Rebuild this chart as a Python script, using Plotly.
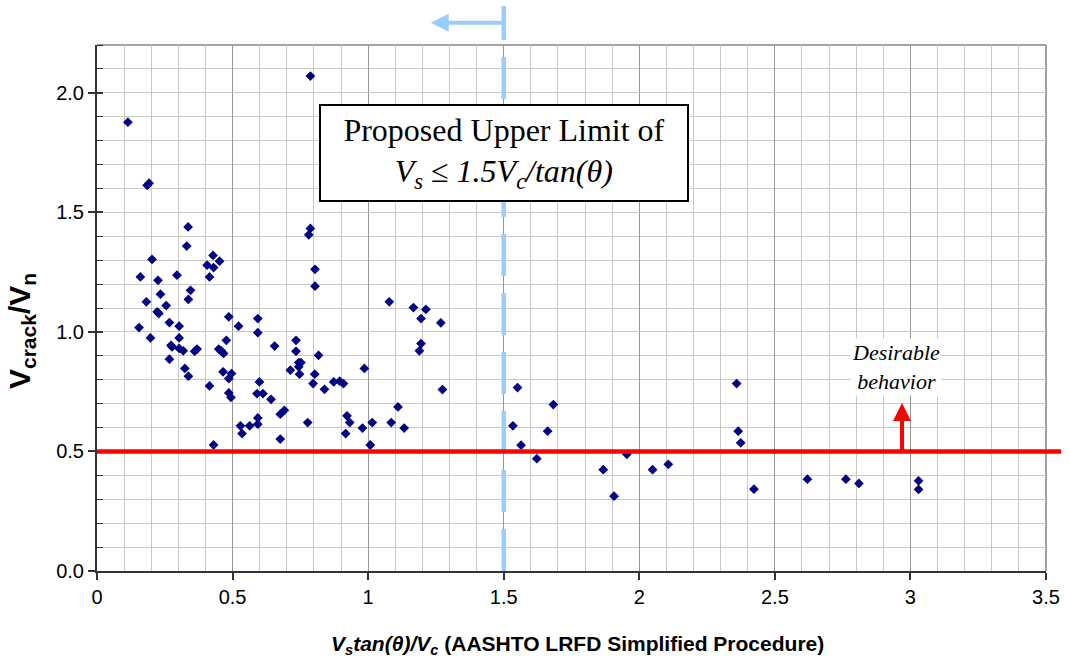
import plotly.graph_objects as go

# ---------------- data ----------------
vs_tan_over_vc = [
    0.787, 0.114, 0.185, 0.192, 0.336, 0.331, 0.787, 0.781, 0.203, 0.160,
    0.225, 0.295, 0.234, 0.182, 0.222, 0.228, 0.255, 0.267, 0.155, 0.303,
    0.428, 0.406, 0.430, 0.452, 0.415, 0.345, 0.337, 0.804, 0.804, 1.078,
    1.167, 0.486, 0.522, 0.593,
    0.197, 0.303, 0.273, 0.277, 0.303, 0.318, 0.267, 0.360, 0.369, 0.324,
    0.337, 0.593, 0.477, 0.449, 0.458, 0.467, 0.655, 0.734, 0.734, 0.744,
    0.752, 0.744, 0.747, 0.817, 0.713, 0.803, 0.797, 0.839, 0.873, 0.895,
    0.909, 0.986, 0.465, 0.496, 0.486, 0.415, 0.486, 0.494, 0.599, 0.590,
    0.612, 0.642, 0.676, 0.691, 0.777, 0.922, 0.932, 0.917, 0.979, 1.015,
    1.008, 1.110, 1.085, 1.133, 1.195, 1.195, 1.189, 0.529, 0.535, 0.563,
    0.593, 0.593, 0.676, 0.430,
    1.213, 1.268, 1.274,
    1.551, 1.683, 1.534, 1.662, 1.564, 1.622, 1.867, 1.907, 1.954, 2.049,
    2.107, 2.359, 2.365, 2.374, 2.423,
    2.620, 2.762, 2.810, 3.030, 3.030,
]
vcrack_over_vn = [
    2.070, 1.877, 1.613, 1.622, 1.439, 1.359, 1.433, 1.406, 1.303, 1.230,
    1.216, 1.237, 1.158, 1.126, 1.084, 1.077, 1.110, 1.039, 1.018, 1.024,
    1.320, 1.279, 1.269, 1.296, 1.230, 1.174, 1.136, 1.262, 1.191, 1.126,
    1.102, 1.063, 1.024, 1.056,
    0.975, 0.975, 0.944, 0.937, 0.931, 0.921, 0.886, 0.919, 0.928, 0.847,
    0.815, 0.997, 0.965, 0.928, 0.921, 0.910, 0.941, 0.965, 0.919, 0.872,
    0.872, 0.854, 0.823, 0.902, 0.840, 0.823, 0.784, 0.760, 0.791, 0.794,
    0.784, 0.847, 0.833, 0.826, 0.805, 0.774, 0.745, 0.726, 0.791, 0.742,
    0.742, 0.718, 0.656, 0.672, 0.621, 0.649, 0.621, 0.575, 0.598, 0.621,
    0.527, 0.686, 0.621, 0.598, 1.056, 0.951, 0.921, 0.607, 0.575, 0.607,
    0.640, 0.614, 0.552, 0.527,
    1.094, 1.038, 0.759,
    0.767, 0.696, 0.607, 0.585, 0.526, 0.470, 0.424, 0.313, 0.488, 0.424,
    0.446, 0.784, 0.585, 0.536, 0.342,
    0.384, 0.384, 0.366, 0.377, 0.341,
]

x_tick_vals = [0, 0.5, 1, 1.5, 2, 2.5, 3, 3.5]
x_tick_text = ["0", "0.5", "1", "1.5", "2", "2.5", "3", "3.5"]
y_tick_vals = [0.0, 0.5, 1.0, 1.5, 2.0]
y_tick_text = ["0.0", "0.5", "1.0", "1.5", "2.0"]

X_RANGE = [0, 3.5]
Y_RANGE = [0, 2.2]
PROPOSED_LIMIT = 1.5      # Vs tan(theta)/Vc upper limit
DESIRED_RATIO = 0.5       # Vcrack/Vn threshold
DESIRABLE_ARROW_X = 2.969
DESIRABLE_ARROW_TOP = 0.703
DESIRABLE_TEXT_X = 2.946
DESIRABLE_TEXT_Y = 0.853

# ---------------- layout geometry ----------------
W, H = 1070, 663
ML, MR, MT, MB = 97, 24, 45, 92
PW = W - ML - MR
PH = H - MT - MB
PX_PER_X = PW / (X_RANGE[1] - X_RANGE[0])


def paper_x(px):
    return (px - ML) / PW


def paper_y(py):
    return (H - MB - py) / PH


FONT_SANS = "Liberation Sans, Arial, sans-serif"
FONT_SERIF = "Liberation Serif, Times New Roman, serif"
NAVY = "#000080"
LIGHT_BLUE = "#99CCFF"
AXIS_DARK = "#333333"
MINOR_GRID = "#C8C8C8"

fig = go.Figure()
fig.add_trace(go.Scatter(
    x=vs_tan_over_vc, y=vcrack_over_vn, mode="markers",
    marker=dict(symbol="diamond", size=7.5, color=NAVY, line=dict(width=0)),
    showlegend=False, hoverinfo="x+y",
))
# empty trace so the overlay axis (inner half of the major y ticks) is drawn
fig.add_trace(go.Scatter(x=[], y=[], yaxis="y2", showlegend=False, hoverinfo="skip"))

shapes = [
    # top and right frame (grey)
    dict(type="line", xref="paper", yref="paper", x0=0, x1=1, y0=1, y1=1,
         line=dict(color="#858585", width=1.5), layer="below"),
    dict(type="line", xref="paper", yref="paper", x0=1, x1=1, y0=0, y1=1,
         line=dict(color="#858585", width=1.5), layer="below"),
    # proposed limit: short top segment + dashed line
    dict(type="line", xref="x", yref="paper", x0=PROPOSED_LIMIT, x1=PROPOSED_LIMIT,
         y0=paper_y(6), y1=paper_y(40), line=dict(color=LIGHT_BLUE, width=4.5),
         layer="above"),
    dict(type="line", xref="x", yref="paper", x0=PROPOSED_LIMIT, x1=PROPOSED_LIMIT,
         y0=paper_y(57), y1=0, line=dict(color=LIGHT_BLUE, width=4.5, dash="42px,17px"),
         layer="above"),
    # desired ratio line
    dict(type="line", xref="paper", yref="y", x0=0, x1=paper_x(1061),
         y0=DESIRED_RATIO, y1=DESIRED_RATIO, line=dict(color="#FF0000", width=4.5),
         layer="above"),
]

annotations = [
    # left arrow at top of limit line
    dict(xref="x", yref="paper", x=PROPOSED_LIMIT - 73 / PX_PER_X, y=paper_y(22.7),
         ax=73, ay=0, axref="pixel", ayref="pixel", text="", showarrow=True,
         arrowhead=2, arrowsize=0.9, arrowwidth=4, arrowcolor=LIGHT_BLUE),
    # boxed proposal text
    dict(xref="x", yref="paper", x=PROPOSED_LIMIT, y=paper_y(153),
         xanchor="center", yanchor="middle", showarrow=False,
         text="Proposed Upper Limit of<br><i>V<sub>s</sub> ≤ 1.5V<sub>c</sub>/tan(θ)</i>",
         font=dict(family=FONT_SERIF, size=32, color="black"),
         bgcolor="white", bordercolor="black", borderwidth=2, borderpad=5,
         width=356, height=84, align="center"),
    # desirable behavior arrow
    dict(xref="x", yref="y", x=DESIRABLE_ARROW_X, y=DESIRABLE_ARROW_TOP,
         ax=DESIRABLE_ARROW_X, ay=DESIRED_RATIO, axref="x", ayref="y",
         text="", showarrow=True, arrowhead=2, arrowsize=0.9, arrowwidth=4,
         arrowcolor="#FF0000"),
    dict(xref="x", yref="y", x=DESIRABLE_TEXT_X, y=DESIRABLE_TEXT_Y,
         text="<i>Desirable<br>behavior</i>", showarrow=False,
         font=dict(family=FONT_SERIF, size=22, color="black"),
         bgcolor="white", borderpad=1, align="center"),
    # axis titles
    dict(xref="paper", yref="paper", x=paper_x(21), y=paper_y(331),
         xanchor="center", yanchor="middle", textangle=-90, showarrow=False,
         text="<b>V<sub>crack</sub>/V<sub>n</sub></b>",
         font=dict(family=FONT_SANS, size=30, color="black")),
    dict(xref="paper", yref="paper", x=paper_x(577), y=paper_y(645),
         xanchor="center", yanchor="middle", showarrow=False,
         text="<b><i>V<sub>s</sub>tan(θ)/V<sub>c</sub></i> (AASHTO LRFD Simplified Procedure)</b>",
         font=dict(family=FONT_SANS, size=21, color="black")),
]

fig.update_layout(
    width=W, height=H,
    margin=dict(l=ML, r=MR, t=MT, b=MB, autoexpand=False),
    paper_bgcolor="white", plot_bgcolor="white",
    shapes=shapes, annotations=annotations,
    xaxis=dict(
        range=X_RANGE, tickmode="array", tickvals=x_tick_vals, ticktext=x_tick_text,
        showgrid=True, gridcolor="#969696", gridwidth=1,
        minor=dict(dtick=0.1, showgrid=True, gridcolor=MINOR_GRID, gridwidth=1, ticks=""),
        showline=True, linecolor=AXIS_DARK, linewidth=2,
        ticks="outside", ticklen=7, tickwidth=1.5, tickcolor=AXIS_DARK,
        zeroline=False, tickfont=dict(family=FONT_SANS, size=20, color="black"),
        automargin=False, fixedrange=True,
    ),
    yaxis=dict(
        range=Y_RANGE, tickmode="array", tickvals=y_tick_vals, ticktext=y_tick_text,
        showgrid=True, gridcolor=MINOR_GRID, gridwidth=1,
        minor=dict(dtick=0.1, showgrid=True, gridcolor=MINOR_GRID, gridwidth=1,
                   ticks="inside", ticklen=6, tickwidth=1.2, tickcolor=AXIS_DARK),
        showline=True, linecolor=AXIS_DARK, linewidth=2,
        ticks="outside", ticklen=7, tickwidth=1.5, tickcolor=AXIS_DARK,
        zeroline=False, tickfont=dict(family=FONT_SANS, size=20, color="black"),
        automargin=False, fixedrange=True,
    ),
    yaxis2=dict(
        overlaying="y", side="left", range=Y_RANGE,
        tickmode="array", tickvals=y_tick_vals, showticklabels=False,
        ticks="inside", ticklen=6, tickwidth=1.5, tickcolor=AXIS_DARK,
        showgrid=False, showline=False, zeroline=False, fixedrange=True,
    ),
)

fig.write_html("out.html", config={"displayModeBar": False},
               post_script="document.body.style.margin='0px';")
